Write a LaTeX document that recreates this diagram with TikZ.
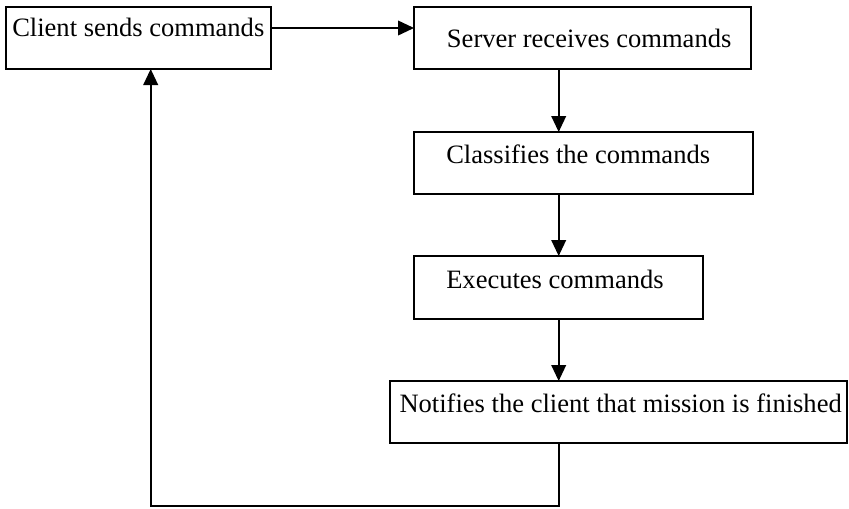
\documentclass[tikz,border=0pt]{standalone}
\usepackage{fontspec}
\setmainfont{Liberation Serif}
\usetikzlibrary{arrows.meta}
\begin{document}
\begin{tikzpicture}[x=0.75pt,y=-0.75pt,
  box/.style={draw,line width=1.3pt,inner sep=0pt,outer sep=0pt,anchor=north west},
  lbl/.style={inner sep=0pt,anchor=base west,font=\fontsize{19.9pt}{23pt}\selectfont},
  flow/.style={line width=1.3pt,-{Triangle[length=12pt,width=11pt]}}]
\useasboundingbox (0,0) rectangle (849,508);
% boxes
\node[box,minimum width=198.75pt,minimum height=46.5pt] (b1) at (6,7) {};
\node[box,minimum width=252.75pt,minimum height=46.5pt] (b2) at (414,7) {};
\node[box,minimum width=254.25pt,minimum height=46.5pt] (b3) at (414,132) {};
\node[box,minimum width=216.75pt,minimum height=47.25pt] (b4) at (414,256) {};
\node[box,minimum width=342.75pt,minimum height=46.5pt] (b5) at (390,381) {};
% texts
\node[lbl] (t1) at (12,36.7) {Client sends commands};
\node[lbl] (t2) at (446.7,47.7) {Server receives commands};
\node[lbl] (t3) at (446,163) {Classifies the commands};
\node[lbl] (t4) at (446,288) {Executes commands};
\node[lbl] (t5) at (399.3,412.7) {Notifies the client that mission is finished};
% connectors
\coordinate (cx) at (558.7,0);
\coordinate (lx) at (150.7,0);
\coordinate (ry) at (0,28);
\coordinate (by) at (0,506);
\draw[flow] (b1.east |- ry) -- (b2.west |- ry);
\draw[flow] (cx |- b2.south) -- (cx |- b3.north);
\draw[flow] (cx |- b3.south) -- (cx |- b4.north);
\draw[flow] (cx |- b4.south) -- (cx |- b5.north);
\coordinate (c1) at (cx |- by);
\coordinate (c2) at (lx |- by);
\draw[flow] (cx |- b5.south) -- (c1) -- (c2) -- (lx |- b1.south);
\end{tikzpicture}
\end{document}
